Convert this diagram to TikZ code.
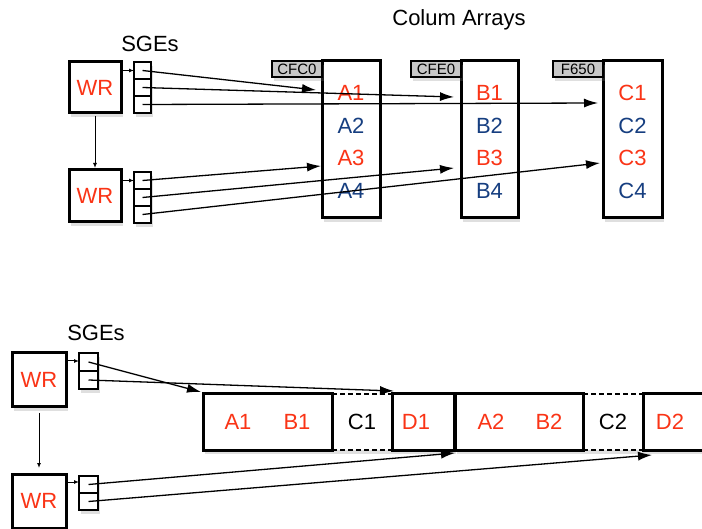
\documentclass[tikz,border=0pt]{standalone}
\usepackage{fontspec}
\setmainfont{Liberation Sans}
\usetikzlibrary{arrows.meta, shadows, calc}
\definecolor{wrred}{RGB}{250,52,22}
\definecolor{wrblue}{RGB}{22,62,128}
\definecolor{taggray}{RGB}{200,200,200}

\begin{document}
\begin{tikzpicture}[x=1pt, y=-1pt,
	big/.style={font=\fontsize{22}{24}\selectfont},
	shade/.style={drop shadow={shadow xshift=2pt, shadow yshift=-4pt, opacity=0.25}},
	wrbox/.style={draw, line width=3pt, fill=white, inner sep=0pt, outer sep=0pt, shade, big, text=wrred},
	sge/.style={draw, line width=2.5pt, fill=white, inner sep=0pt, outer sep=0pt, shade},
	col/.style={draw, line width=3pt, fill=white, inner sep=0pt, outer sep=0pt, shade, minimum width=58pt, minimum height=157pt},
	tag/.style={draw, line width=1.3pt, fill=taggray, inner sep=0pt, outer sep=0pt, shade, minimum width=50pt, minimum height=16pt, font=\fontsize{15}{16}\selectfont},
	blk/.style={draw, line width=3pt, fill=white, inner sep=0pt, outer sep=0pt, shade, minimum height=56pt},
	gap/.style={fill=white, inner sep=0pt, outer sep=0pt, shade, minimum height=56pt},
	conn/.style={line width=1.3pt, -{Latex[length=14pt,width=9pt]}},
	small/.style={line width=1pt, -{Latex[length=5pt,width=4pt]}},
	red/.style={big, text=wrred},
	blue/.style={big, text=wrblue}]
	\useasboundingbox (0,0) rectangle (702,529);

	% top: two work requests with three SGEs each
	\node[wrbox, minimum width=52pt, minimum height=51pt] (wr1) at (95,87.5) {WR};
	\node[wrbox, minimum width=52pt, minimum height=52pt] (wr2) at (95,196) {WR};
	\node[big] (sgetop) at (150,44) {SGEs};
	\node[big] (arrays) at (459,20) {Colum Arrays};

	\node[sge, minimum width=17pt, minimum height=17pt] (s1a) at (142.5,70.5) {};
	\node[sge, minimum width=17pt, minimum height=17pt] (s1b) at (142.5,87.5) {};
	\node[sge, minimum width=17pt, minimum height=17pt] (s1c) at (142.5,104.5) {};
	\node[sge, minimum width=17pt, minimum height=17pt] (s2a) at (142.5,180.5) {};
	\node[sge, minimum width=17pt, minimum height=17pt] (s2b) at (142.5,197.5) {};
	\node[sge, minimum width=17pt, minimum height=17pt] (s2c) at (142.5,214.5) {};

	\draw[small] (wr1.east |- s1a.west) -- (s1a.west);
	\draw[small] (wr2.east |- s2a.west) -- (s2a.west);
	\draw[small, shorten <=3pt, shorten >=2pt] (wr1.south) -- (wr2.north);

	% column arrays
	\node[col] (colA) at (351,139.5) {};
	\node[col, minimum width=57pt] (colB) at (489.5,139.5) {};
	\node[col, minimum width=59pt] (colC) at (632.5,139.5) {};
	\node[tag, anchor=north east] (tagA) at (colA.north west) {CFC0};
	\node[tag, anchor=north east] (tagB) at (colB.north west) {CFE0};
	\node[tag, anchor=north east] (tagC) at (colC.north west) {F650};

	\node[red] (a1) at (351,93) {A1};
	\node[blue] (a2) at (351,125.5) {A2};
	\node[red] (a3) at (351,158) {A3};
	\node[blue] (a4) at (351,190.5) {A4};
	\node[red] (b1) at (489.5,93) {B1};
	\node[blue] (b2) at (489.5,125.5) {B2};
	\node[red] (b3) at (489.5,158) {B3};
	\node[blue] (b4) at (489.5,190.5) {B4};
	\node[red] (c1) at (632.5,93) {C1};
	\node[blue] (c2) at (632.5,125.5) {C2};
	\node[red] (c3) at (632.5,158) {C3};
	\node[blue] (c4) at (632.5,190.5) {C4};

	\coordinate (tA1) at (316,90);
	\coordinate (tB1) at (454,97);
	\coordinate (tC1) at (598,103);
	\coordinate (tA3) at (321,166);
	\coordinate (tB3) at (454,168);
	\coordinate (tC3) at (600,163);

	\draw[conn] (s1a.center) -- (tA1);
	\draw[conn] (s1b.center) -- (tB1);
	\draw[conn] (s1c.center) -- (tC1);
	\draw[conn] (s2a.center) -- (tA3);
	\draw[conn] (s2b.center) -- (tB3);
	\draw[conn] (s2c.center) -- (tC3);

	% bottom: row layout
	\node[wrbox, minimum width=54pt, minimum height=54pt] (wr3) at (39,380) {WR};
	\node[wrbox, minimum width=54pt, minimum height=54pt] (wr4) at (39,501) {WR};
	\node[big] (sgebot) at (96,333) {SGEs};

	\node[sge, minimum width=19pt, minimum height=18pt] (s3a) at (88.5,362) {};
	\node[sge, minimum width=19pt, minimum height=18pt] (s3b) at (88.5,380) {};
	\node[sge, minimum width=19pt, minimum height=17pt] (s4a) at (88.5,484.5) {};
	\node[sge, minimum width=19pt, minimum height=17pt] (s4b) at (88.5,501.5) {};

	\draw[small] (wr3.east |- 79,361) -- (79,361);
	\draw[small] (wr4.east |- 79,482) -- (79,482);
	\draw[small, shorten <=6pt, shorten >=6pt] (wr3.south) -- (wr4.north);

	\node[blk, minimum width=129pt] (ab1) at (267.5,422) {};
	\node[gap, minimum width=60pt] (cc1) at (362,422) {};
	\node[blk, minimum width=62pt] (d1) at (423,422) {};
	\node[blk, minimum width=128pt] (ab2) at (519,422) {};
	\node[gap, minimum width=60pt] (cc2) at (613,422) {};
	\node[blk, minimum width=63pt] (d2) at (674.5,422) {};
	\draw[line width=3pt] (ab1.north east) -- (ab1.south east);
	\draw[line width=2.5pt, dash pattern=on 5pt off 3pt] (cc1.north west) -- (cc1.north east) (cc1.south west) -- (cc1.south east);
	\draw[line width=2.5pt, dash pattern=on 5pt off 3pt] (cc2.north west) -- (cc2.north east) (cc2.south west) -- (cc2.south east);
	\draw[line width=3pt] (d1.north west) -- (d1.south west);
	\draw[line width=3pt] (ab2.north east) -- (ab2.south east);
	\draw[line width=3pt] (d2.north west) -- (d2.south west);

	\node[red] (r1) at (238,422) {A1};
	\node[red] (r2) at (297,422) {B1};
	\node[big] (r3) at (cc1) {C1};
	\node[red] (r4) at (416,422) {D1};
	\node[red] (r5) at (491,422) {A2};
	\node[red] (r6) at (549,422) {B2};
	\node[big] (r7) at (cc2) {C2};
	\node[red] (r8) at (670,422) {D2};

	\coordinate (tAB1) at (201,392);
	\coordinate (tD1) at (394,391);
	\coordinate (tAB2) at (455,453);
	\coordinate (tD2) at (652,455);

	\draw[conn] (s3a.center) -- (tAB1);
	\draw[conn] (s3b.center) -- (tD1);
	\draw[conn] (s4a.center) -- (tAB2);
	\draw[conn] (s4b.center) -- (tD2);
\end{tikzpicture}
\end{document}
